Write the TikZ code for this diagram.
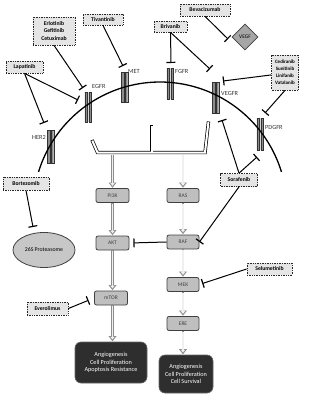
\documentclass[tikz,border=0pt]{standalone}
\usepackage{fontspec}
\setmainfont{Carlito}
\usetikzlibrary{arrows.meta,shapes.geometric}
\newcommand\rcpt[3]{\filldraw[fill=black!45,draw=black!80,line width=0.4pt] (#1-3.2,#2) rectangle (#1-0.7,#3) (#1+0.7,#2) rectangle (#1+3.2,#3);}
\begin{document}
\begin{tikzpicture}[x=1pt,y=-1pt,
  drug/.style={draw=black!85, densely dotted, line width=0.7pt, fill=black!10, inner sep=0pt, align=center,
    font=\fontsize{5.7}{7.7}\selectfont\bfseries},
  pbox/.style={draw=black!75, line width=0.8pt, fill=black!25, rounded corners=2pt, minimum width=33pt,
    minimum height=14pt, inner sep=0pt, font=\fontsize{5.5}{6}\selectfont, text=black!75},
  outcome/.style={fill=black!82, draw=black!60, line width=0.6pt, rounded corners=6pt, text=white, align=center,
    inner sep=0pt, font=\fontsize{6.2}{7.8}\selectfont},
  rlabel/.style={font=\fontsize{6.3}{7}\selectfont, text=black!80, inner sep=0pt},
  inhib/.style={line width=1pt, -{Bar[width=9pt,line width=1.2pt]}},
  flow/.style={draw=black!45, line width=2.6pt, shorten >=0.5pt,
    -{Triangle[length=5pt,width=8pt,line width=0pt]},
    postaction={draw=black!6, line width=1.2pt, shorten <=0.7pt, shorten >=2.3pt,
      -{Triangle[length=2.6pt,width=4.4pt,line width=0pt]}}}
]
\useasboundingbox (0,0) rectangle (313,400);

% receptors
\rcpt{88}{92}{122}
\rcpt{124.5}{72}{102}
\rcpt{170}{68}{99}
\rcpt{215.5}{82}{113}
\rcpt{260}{118}{150}
\rcpt{50.5}{130}{163}

% membrane
\draw[line width=1.3pt] plot[domain=197:343,samples=90,smooth] ({160+127*cos(\x)},{209+127*sin(\x)});

% receptor labels
\node[rlabel, anchor=west] (egfrL) at (92,86) {EGFR};
\node[rlabel, anchor=west] (metL) at (128,71) {MET};
\node[rlabel, anchor=west] (fgfrL) at (175,71) {FGFR};
\node[rlabel, anchor=west] (vegfrL) at (221,93) {VEGFR};
\node[rlabel, anchor=west] (pdgfrL) at (265,127) {PDGFR};
\node[rlabel] (her2L) at (39,137) {HER2};

% bracket (adaptor)
\draw[line width=3.4pt, line join=miter] (92,140) -- (97.5,152.5) -- (205,152.5) -- (208.5,121.5);
\draw[line width=3.4pt] (151.5,152.5) -- (151.5,125);
\draw[line width=2pt, white, line join=miter, shorten <=0.7pt, shorten >=0.7pt] (92,140) -- (97.5,152.5) -- (205,152.5) -- (208.5,121.5);
\draw[line width=2pt, white, shorten >=0.7pt] (151.5,152.5) -- (151.5,125);
\coordinate (bl) at (112.5,154.5);
\coordinate (br) at (183,154.5);

% drugs
\node[drug, minimum width=42pt, minimum height=28pt] (erl) at (54,31) {Erlotinib\\Gefitinib\\Cetuximab};
\node[drug, minimum width=40pt, minimum height=11pt] (tiv) at (103,19.5) {Tivantinib};
\node[drug, minimum width=33pt, minimum height=11pt] (briv) at (170.5,26.5) {Brivanib};
\node[drug, minimum width=50pt, minimum height=12pt] (bev) at (205,10) {Bevacizumab};
\node[drug, minimum width=27pt, minimum height=35pt, font=\fontsize{5}{6.9}\selectfont\bfseries] (ced) at (285,72.5) {Cediranib\\Sunitinib\\Linifanib\\Vatalanib};
\node[drug, minimum width=37pt, minimum height=12pt] (lap) at (24.5,67) {Lapatinib};
\node[drug, minimum width=46pt, minimum height=13pt] (bort) at (26,183.5) {Bortezomib};
\node[drug, minimum width=37pt, minimum height=13pt] (sora) at (239,180) {Sorafenib};
\node[drug, minimum width=41pt, minimum height=13pt] (ever) at (47.5,308.5) {Everolimus};
\node[drug, minimum width=45pt, minimum height=12pt] (selu) at (269.5,269) {Selumetinib};

\node[diamond, draw=black!75, line width=0.8pt, fill=black!35, minimum width=26pt, minimum height=26pt, inner sep=0pt,
  font=\fontsize{5.4}{6}\selectfont] (vegf) at (245,37) {VEGF};
\node[ellipse, draw=black!75, line width=0.8pt, fill=black!22, minimum width=62pt, minimum height=35pt, inner sep=0pt,
  font=\fontsize{5.8}{6}\selectfont] (prot) at (44,250) {26S Proteasome};

% pathway
\node[pbox] (pi3k) at (112.5,195.5) {PI3K};
\node[pbox] (akt) at (112.5,243) {AKT};
\node[pbox] (mtor) at (111,298) {mTOR};
\node[pbox, minimum width=32pt] (ras) at (183,195.5) {RAS};
\node[pbox, minimum width=32pt] (raf) at (183,242) {RAF};
\node[pbox, minimum width=32pt] (mek) at (183,284.5) {MEK};
\node[pbox, minimum width=32pt] (ere) at (183,323.5) {ERE};

\node[outcome, minimum width=72pt, minimum height=41pt] (out1) at (111,362.5) {Angiogenesis\\Cell Proliferation\\Apoptosis Resistance};
\node[outcome, minimum width=54pt, minimum height=38pt] (out2) at (186,374) {Angiogenesis\\Cell Proliferation\\Cell Survival};

% flow arrows
\draw[flow] (bl) -- (pi3k.north);
\draw[flow] (pi3k.south) -- (akt.north);
\draw[flow] (akt.south) -- (akt.south |- mtor.north);
\draw[flow] (akt.south |- mtor.south) -- (akt.south |- out1.north);
\draw[flow] (br) -- (ras.north);
\draw[flow] (ras.south) -- (raf.north);
\draw[flow] (raf.south) -- (mek.north);
\draw[flow] (mek.south) -- (ere.north);
\draw[flow] (ere.south) -- (ere.south |- out2.north);

% inhibition targets
\coordinate (tEgfr1) at (83,88);
\coordinate (tEgfr2) at (78,100);
\coordinate (tHer2) at (44,123);
\coordinate (tMet) at (123,66);
\coordinate (tFgfr) at (171,63);
\coordinate (tVegfr1) at (210,69);
\coordinate (tVegf) at (228,39);
\coordinate (tVegfr2) at (223,81);
\coordinate (tPdgfr1) at (265,113);
\coordinate (tVegfr3) at (222,120);
\coordinate (tPdgfr2) at (257,157);
\coordinate (tProt) at (33,227);

\draw[inhib] (erl.south) -- (tEgfr1);
\draw[inhib] (lap.south) -- (tEgfr2);
\draw[inhib] (lap.south) -- (tHer2);
\draw[inhib] (tiv.south) -- (tMet);
\draw[inhib] (briv.south) -- (tFgfr);
\draw[inhib] (briv.south) -- (tVegfr1);
\draw[inhib] (bev.south) -- (tVegf);
\draw[inhib] (ced.190) -- (tVegfr2);
\draw[inhib] (ced.south) -- (tPdgfr1);
\draw[inhib] (sora.north) -- (tVegfr3);
\draw[inhib] (sora.north) -- (tPdgfr2);
\draw[inhib] (sora.south) -- (raf.east);
\draw[inhib, shorten >=4pt] (raf.west) -- (akt.east);
\draw[inhib, shorten >=6pt] (ever.east) -- (mtor.west);
\draw[inhib, shorten >=3pt] (selu.west) -- (mek.east);
\draw[inhib] (bort.south) -- (tProt);
\end{tikzpicture}
\end{document}
